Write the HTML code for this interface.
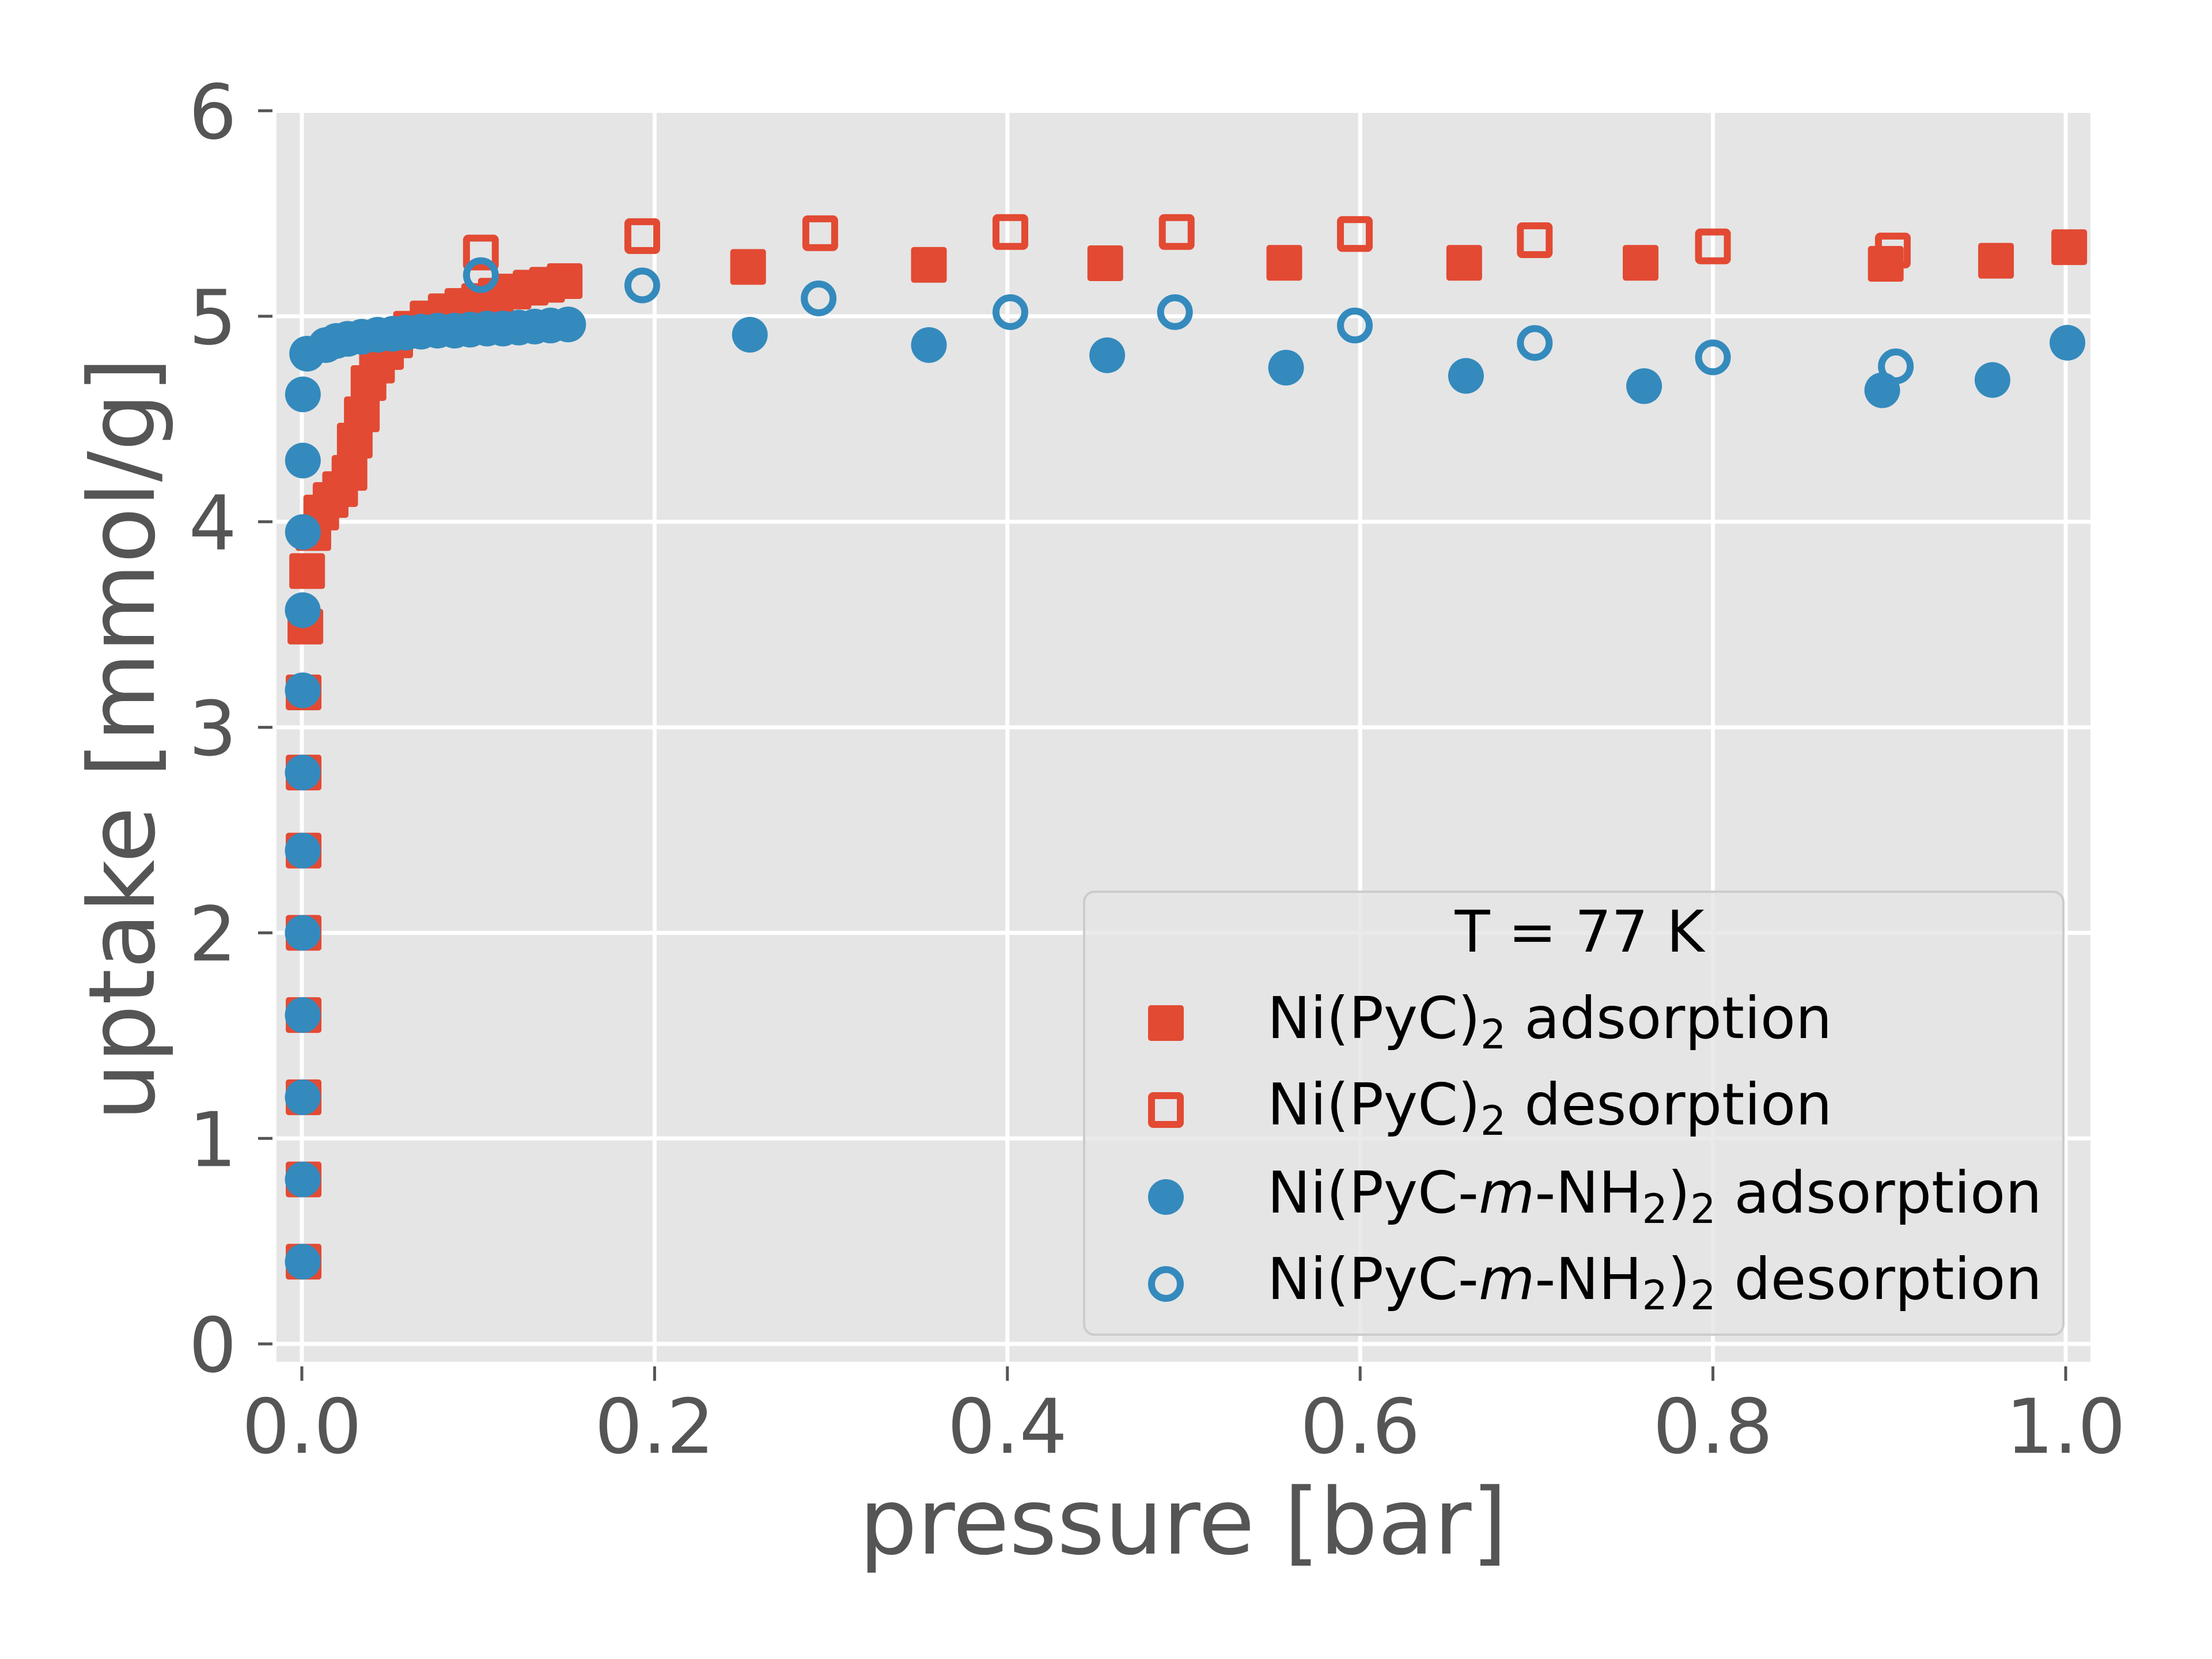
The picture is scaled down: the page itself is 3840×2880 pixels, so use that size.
<!DOCTYPE html>
<html><head><meta charset="utf-8">
<style>
html,body{margin:0;padding:0;background:#fff;}
svg{display:block;}
text{font-family:"DejaVu Sans","Liberation Sans",sans-serif;}
</style></head>
<body>
<svg id="chart" width="3840" height="2880" viewBox="0 0 3840 2880" xmlns="http://www.w3.org/2000/svg">
  <rect x="0" y="0" width="3840" height="2880" fill="#ffffff"/>
  <rect x="480" y="196" width="3149" height="2168" fill="#E5E5E5"/>
  <g id="grid"></g>
  <g id="ticks"></g>
  <g id="marks"></g>
  <text x="2054" y="2697" font-size="159" fill="#555555" text-anchor="middle">pressure [bar]</text>
  <text transform="translate(267,1283) rotate(-90)" x="0" y="0" font-size="159" fill="#555555" text-anchor="middle">uptake [mmol/g]</text>
  <g id="legend">
    <rect x="1882" y="1548" width="1700" height="769" rx="18" fill="#E5E5E5" fill-opacity="0.8" stroke="#cccccc" stroke-width="4"/>
    <text x="2742" y="1652" font-size="100" fill="#000" text-anchor="middle">T = 77 K</text>
    <rect x="1993" y="1745" width="62" height="62" rx="5" fill="#E24A33"/>
    <text x="2200" y="1802" font-size="100" fill="#000">Ni(PyC)<tspan font-size="70" dy="18">2</tspan><tspan dy="-18"> adsorption</tspan></text>
    <rect x="1999" y="1902" width="50" height="50" rx="3" fill="none" stroke="#E24A33" stroke-width="12"/>
    <text x="2200" y="1952" font-size="100" fill="#000">Ni(PyC)<tspan font-size="70" dy="18">2</tspan><tspan dy="-18"> desorption</tspan></text>
    <circle cx="2024" cy="2078" r="31" fill="#348ABD"/>
    <text x="2200" y="2105" font-size="100" fill="#000">Ni(PyC-<tspan font-style="italic">m</tspan>-NH<tspan font-size="70" dy="18">2</tspan><tspan dy="-18">)</tspan><tspan font-size="70" dy="18">2</tspan><tspan dy="-18"> adsorption</tspan></text>
    <circle cx="2024" cy="2229" r="25" fill="none" stroke="#348ABD" stroke-width="12"/>
    <text x="2200" y="2255" font-size="100" fill="#000">Ni(PyC-<tspan font-style="italic">m</tspan>-NH<tspan font-size="70" dy="18">2</tspan><tspan dy="-18">)</tspan><tspan font-size="70" dy="18">2</tspan><tspan dy="-18"> desorption</tspan></text>
  </g>
</svg>
<script>
const xTicks = [0.0, 0.2, 0.4, 0.6, 0.8, 1.0];
const xTickLabels = ["0.0", "0.2", "0.4", "0.6", "0.8", "1.0"];
const yTicks = [0, 1, 2, 3, 4, 5, 6];
const yTickLabels = ["0", "1", "2", "3", "4", "5", "6"];

const redAdsX = [0.001,0.001,0.001,0.001,0.001,0.001,0.001,0.001,0.002,0.003,0.0065,0.011,0.0163,0.0217,0.027,0.030,0.034,0.0378,0.0426,0.0477,0.0529,0.0619,0.0713,0.0816,0.091,0.1005,0.110,0.120,0.1297,0.139,0.149,0.253,0.3555,0.4555,0.557,0.659,0.759,0.898,0.9605,1.002];
const redAdsY = [0.4,0.8,1.2,1.6,2.0,2.4,2.78,3.17,3.49,3.76,3.945,4.045,4.106,4.159,4.238,4.395,4.523,4.675,4.76,4.826,4.883,4.939,4.989,5.024,5.05,5.074,5.10,5.12,5.139,5.153,5.171,5.24,5.25,5.258,5.26,5.26,5.26,5.255,5.27,5.336];

const redDesX = [0.1015,0.193,0.2939,0.4017,0.496,0.597,0.699,0.800,0.902];
const redDesY = [5.31,5.39,5.404,5.41,5.41,5.40,5.37,5.34,5.32];

const blueAdsX = [0.0005,0.0005,0.0005,0.0005,0.0005,0.0005,0.0005,0.0005,0.0005,0.0006,0.0006,0.0006,0.003,0.0137,0.0196,0.026,0.034,0.043,0.0516,0.059,0.0676,0.077,0.0866,0.0954,0.105,0.114,0.123,0.132,0.141,0.151,0.254,0.3555,0.4566,0.558,0.66,0.761,0.896,0.9585,1.001];
const blueAdsY = [0.4,0.8,1.2,1.6,2.0,2.4,2.78,3.18,3.57,3.95,4.298,4.62,4.818,4.86,4.88,4.89,4.90,4.91,4.915,4.92,4.925,4.93,4.93,4.935,4.94,4.94,4.945,4.95,4.955,4.96,4.91,4.86,4.81,4.75,4.71,4.66,4.64,4.69,4.871];

const blueDesX = [0.1015,0.193,0.293,0.4017,0.495,0.597,0.699,0.800,0.9037];
const blueDesY = [5.20,5.15,5.087,5.02,5.02,4.955,4.87,4.80,4.756];

const X0 = 524, XS = 3062, Y0 = 2333, YS = 356.8;
function xPix(v){ return X0 + v * XS; }
function yPix(v){ return Y0 - v * YS; }
const NS = "http://www.w3.org/2000/svg";
function mk(tag, attrs, parent){
  const e = document.createElementNS(NS, tag);
  for (const k in attrs) e.setAttribute(k, attrs[k]);
  parent.appendChild(e);
  return e;
}
const grid = document.getElementById('grid');
const ticks = document.getElementById('ticks');
const marks = document.getElementById('marks');

xTicks.forEach((t, i) => {
  const gx = xPix(t);
  const l = mk('line', {x1: gx, x2: gx, y1: 196, y2: 2364, stroke: '#ffffff', 'stroke-width': 7}, grid);
  
  
  const tk = mk('line', {x1: gx, x2: gx, y1: 2372, y2: 2397, stroke: '#555555', 'stroke-width': 5}, ticks);
  
  
  const tx = mk('text', {x: gx, y: 2522, 'font-size': 131, fill: '#555555', 'text-anchor': 'middle'}, ticks);
  tx.textContent = xTickLabels[i];
  
  
});
yTicks.forEach((t, i) => {
  const gy = yPix(t);
  const l = mk('line', {x1: 480, x2: 3629, y1: gy, y2: gy, stroke: '#ffffff', 'stroke-width': 7}, grid);
  
  
  const tk = mk('line', {x1: 448, x2: 473, y1: gy, y2: gy, stroke: '#555555', 'stroke-width': 5}, ticks);
  
  
  const tx = mk('text', {x: 411, y: gy + 48, 'font-size': 131, fill: '#555555', 'text-anchor': 'end'}, ticks);
  tx.textContent = yTickLabels[i];
  
  
});

const gRA = mk('g', {}, marks);


redAdsX.forEach((v, i) => {
  const r = mk('rect', {x: xPix(v) - 31, y: yPix(redAdsY[i]) - 31, width: 62, height: 62, rx: 5, fill: '#E24A33'}, gRA);
  
  
});
const gRD = mk('g', {}, marks);


redDesX.forEach((v, i) => {
  const r = mk('rect', {x: xPix(v) - 25, y: yPix(redDesY[i]) - 25, width: 50, height: 50, rx: 3, fill: 'none', stroke: '#E24A33', 'stroke-width': 12}, gRD);
  
  
});
const gBA = mk('g', {}, marks);


blueAdsX.forEach((v, i) => {
  const c = mk('circle', {cx: xPix(v), cy: yPix(blueAdsY[i]), r: 31, fill: '#348ABD'}, gBA);
  
  
});
const gBD = mk('g', {}, marks);


blueDesX.forEach((v, i) => {
  const c = mk('circle', {cx: xPix(v), cy: yPix(blueDesY[i]), r: 25, fill: 'none', stroke: '#348ABD', 'stroke-width': 12}, gBD);
  
  
});
</script>
</body></html>
